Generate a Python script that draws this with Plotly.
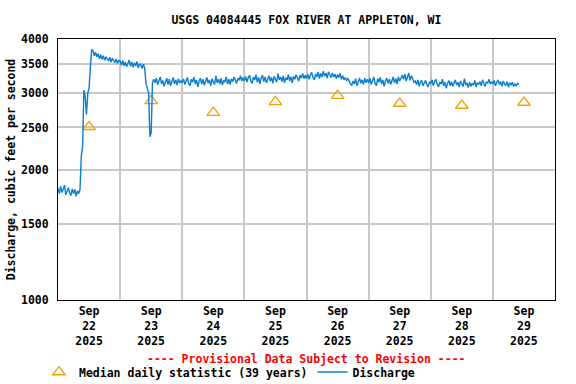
import plotly.graph_objects as go
import pandas as pd

# Discharge, 30-minute values starting 2025-09-22 00:00 (cfs)
sep22 = [1810, 1760, 1830, 1770, 1800, 1840, 1750, 1795, 1815, 1765, 1740, 1805,
         1760, 1800, 1735, 1785, 1760, 1800, 2150, 2250, 3050, 2950, 2680, 3000,
         3080, 3450, 3780, 3760, 3660, 3730, 3640, 3700, 3600, 3680, 3590, 3660,
         3570, 3640, 3600, 3560, 3630, 3540, 3610, 3580, 3530, 3600, 3510, 3570]
sep23 = [3560, 3480, 3570, 3470, 3540, 3450, 3530, 3580, 3460, 3540, 3440, 3520,
         3470, 3550, 3430, 3510, 3480, 3420, 3500, 3420, 3150, 3060, 3010, 2380,
         2430, 3180, 3230, 3170, 3250, 3140, 3230, 3270, 3150, 3210, 3110, 3190,
         3250, 3140, 3230, 3120, 3200, 3260, 3150, 3220, 3130, 3240, 3170, 3200]
sep24 = [3170, 3240, 3140, 3210, 3260, 3160, 3120, 3230, 3180, 3270, 3150, 3220,
         3100, 3200, 3250, 3150, 3230, 3130, 3190, 3260, 3160, 3220, 3120, 3240,
         3190, 3140, 3290, 3170, 3230, 3150, 3250, 3130, 3210, 3180, 3270, 3150,
         3230, 3140, 3240, 3190, 3270, 3200, 3160, 3250, 3210, 3290, 3200, 3260]
sep25 = [3200, 3280, 3180, 3260, 3300, 3200, 3160, 3270, 3220, 3310, 3180, 3260,
         3150, 3250, 3300, 3190, 3270, 3170, 3240, 3290, 3200, 3260, 3160, 3280,
         3230, 3180, 3330, 3220, 3270, 3190, 3290, 3170, 3260, 3220, 3310, 3200,
         3270, 3170, 3280, 3230, 3310, 3240, 3200, 3300, 3250, 3330, 3240, 3300]
sep26 = [3240, 3320, 3230, 3300, 3350, 3260, 3220, 3320, 3270, 3360, 3240, 3330,
         3270, 3370, 3280, 3340, 3250, 3360, 3290, 3260, 3340, 3270, 3320, 3240,
         3310, 3260, 3330, 3230, 3290, 3220, 3260, 3210, 3240, 3180, 3150, 3130,
         3200, 3150, 3240, 3120, 3210, 3250, 3160, 3220, 3140, 3250, 3170, 3230]
sep27 = [3170, 3250, 3140, 3210, 3270, 3160, 3120, 3240, 3180, 3260, 3150, 3220,
         3110, 3200, 3250, 3160, 3230, 3140, 3200, 3270, 3170, 3240, 3150, 3270,
         3200, 3240, 3300, 3230, 3320, 3200, 3270, 3340, 3210, 3290, 3240, 3180,
         3200, 3140, 3220, 3110, 3180, 3210, 3120, 3170, 3210, 3140, 3100, 3180]
sep28 = [3160, 3220, 3120, 3190, 3230, 3140, 3100, 3180, 3150, 3230, 3120, 3180,
         3080, 3160, 3210, 3120, 3190, 3110, 3160, 3220, 3130, 3180, 3100, 3200,
         3150, 3110, 3240, 3130, 3170, 3090, 3180, 3110, 3160, 3130, 3210, 3100,
         3170, 3140, 3190, 3120, 3220, 3150, 3110, 3190, 3160, 3230, 3150, 3190]
sep29 = [3150, 3210, 3120, 3180, 3220, 3140, 3190, 3110, 3200, 3150, 3130, 3190,
         3100, 3170, 3130, 3180, 3110, 3150, 3120, 3160, 3140]

discharge = sep22 + sep23 + sep24 + sep25 + sep26 + sep27 + sep28 + sep29
times = pd.date_range("2025-09-22 00:00", periods=len(discharge), freq="30min")

# Median daily statistic (39 years), plotted at noon
median_days = ["2025-09-22 12:00", "2025-09-23 12:00", "2025-09-24 12:00", "2025-09-25 12:00",
               "2025-09-26 12:00", "2025-09-27 12:00", "2025-09-28 12:00", "2025-09-29 12:00"]
median_vals = [2510, 2880, 2705, 2865, 2960, 2840, 2810, 2855]

tick_vals = median_days
tick_text = ["Sep<br>22<br>2025", "Sep<br>23<br>2025", "Sep<br>24<br>2025", "Sep<br>25<br>2025",
             "Sep<br>26<br>2025", "Sep<br>27<br>2025", "Sep<br>28<br>2025", "Sep<br>29<br>2025"]
grid_days = ["2025-09-23", "2025-09-24", "2025-09-25", "2025-09-26",
             "2025-09-27", "2025-09-28", "2025-09-29"]
y_ticks = [1000, 1500, 2000, 2500, 3000, 3500, 4000]

FONT = "DejaVu Sans Mono"

fig = go.Figure()
fig.add_trace(go.Scatter(
    x=median_days, y=median_vals, mode="markers",
    name="Median daily statistic (39 years)",
    marker=dict(symbol="triangle-up-open", size=11, color="#f5a000",
                line=dict(width=1.3, color="#f5a000")),
))
fig.add_trace(go.Scatter(
    x=times, y=discharge, mode="lines", name="Discharge",
    line=dict(color="#0a7fd0", width=1.4),
))

fig.update_layout(
    width=576, height=384,
    margin=dict(l=58, r=21, t=39, b=84, autoexpand=False),
    paper_bgcolor="white", plot_bgcolor="white",
    font=dict(family=FONT, size=11.5, color="black", weight="bold"),
    title=dict(text="USGS 04084445 FOX RIVER AT APPLETON, WI", x=0.532, xanchor="center",
               y=1 - 20 / 384, yanchor="middle",
               font=dict(family=FONT, size=11.5, color="black", weight="bold")),
    showlegend=True,
    legend=dict(orientation="h", xref="container", x=39 / 576, xanchor="left",
                yref="container", y=1 - 372 / 384, yanchor="middle",
                font=dict(family=FONT, size=11.5, color="black", weight="bold"),
                bgcolor="rgba(0,0,0,0)", itemwidth=30, tracegroupgap=0),
    annotations=[dict(text="---- Provisional Data Subject to Revision ----",
                      xref="paper", yref="paper", x=0.499, y=(300 - 359) / 261,
                      xanchor="center", yanchor="middle", showarrow=False,
                      font=dict(family=FONT, size=11.5, color="red", weight="bold"))],
)
fig.update_xaxes(
    type="date", range=["2025-09-22 00:00", "2025-09-30 00:00"],
    tickvals=tick_vals, ticktext=tick_text, ticks="", showgrid=False,
    showline=True, linecolor="black", linewidth=1, mirror=True,
    minor=dict(tickvals=grid_days, showgrid=True, gridcolor="#c8c8c8", gridwidth=1.5, ticks=""),
    tickfont=dict(family=FONT, size=11.5, color="black", weight="bold"),
    zeroline=False, automargin=False,
)
fig.update_yaxes(
    type="log", range=[3, 3.60206], tickvals=y_ticks, ticktext=[str(v) for v in y_ticks],
    ticks="", showgrid=True, gridcolor="#c8c8c8", gridwidth=1.5,
    showline=True, linecolor="black", linewidth=1, mirror=True,
    title=dict(text="Discharge, cubic feet per second", standoff=2,
               font=dict(family=FONT, size=11.5, color="black", weight="bold")),
    tickfont=dict(family=FONT, size=11.5, color="black", weight="bold"),
    ticklabelstandoff=6, zeroline=False, automargin=False,
)

fig.write_html("out.html", config={"displayModeBar": False},
               post_script="document.body.style.margin='0';")
